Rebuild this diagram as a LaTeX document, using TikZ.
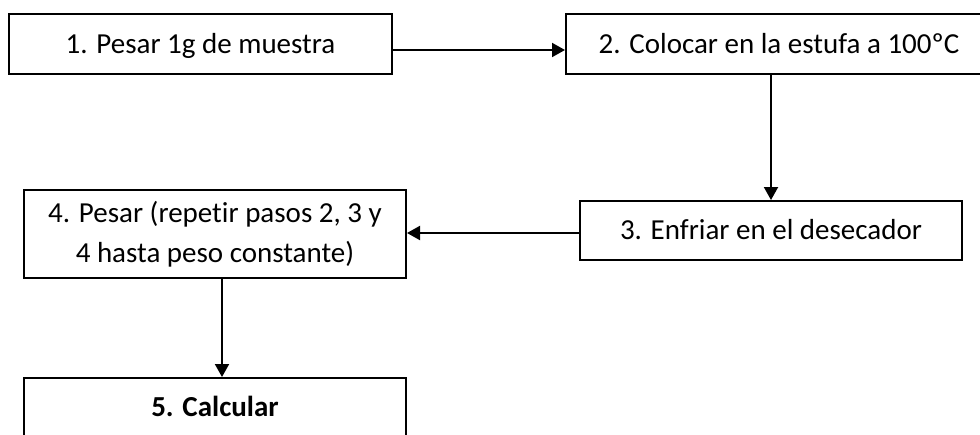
\documentclass[tikz,border=0pt]{standalone}
\usepackage{fontspec}
\setmainfont{Carlito}[Ligatures=NoCommon]
\usepackage{tikz}
\usetikzlibrary{arrows.meta,positioning}
\tikzset{
  stepbox/.style={draw=black,line width=2pt,fill=white,inner sep=0pt,align=center,
    font=\fontsize{29}{40}\selectfont},
  oneline/.style={text height=39pt,text depth=21pt},
  arr/.style={-{Triangle[length=13pt,width=14pt]},line width=2pt,black},
}

\begin{document}
\begin{tikzpicture}[x=1pt,y=-1pt]
    % page frame
    \useasboundingbox (0,0) rectangle (980,434);
    \clip (0,0) rectangle (980,434);
    % boxes
    \node[stepbox,oneline,minimum width=383pt,minimum height=60pt] (b1) at (200.5,44) {1. Pesar 1g de muestra};
    \node[stepbox,oneline,minimum width=426pt,minimum height=60pt] (b2) at (779,44) {2. Colocar en la estufa a 100ºC};
    \node[stepbox,text height=38pt,text depth=21pt,minimum width=382pt,minimum height=59pt] (b3) at (771,230.5) {3. Enfriar en el desecador};
    \node[stepbox,minimum width=382pt,minimum height=88pt] (b4) at (215,234) {4. Pesar (repetir pasos 2, 3 y\\4 hasta peso constante)};
    \node[stepbox,anchor=north,text height=38pt,text depth=72pt,minimum width=382pt,minimum height=110pt] (b5) at (215,377) {\textbf{5. Calcular}};
    % arrows
    \draw[arr] ([yshift=-6pt]b1.east) -- ([yshift=-6pt]b1.east -| b2.west);
    \draw[arr] (b2.south -| b3.north) -- (b3.north);
    \draw[arr] ([yshift=-2.5pt]b3.west) -- ([yshift=-2.5pt]b3.west -| b4.east);
    \draw[arr] ([xshift=7pt]b4.south) -- ([xshift=7pt]b4.south |- b5.north);
  \end{tikzpicture}
\end{document}
